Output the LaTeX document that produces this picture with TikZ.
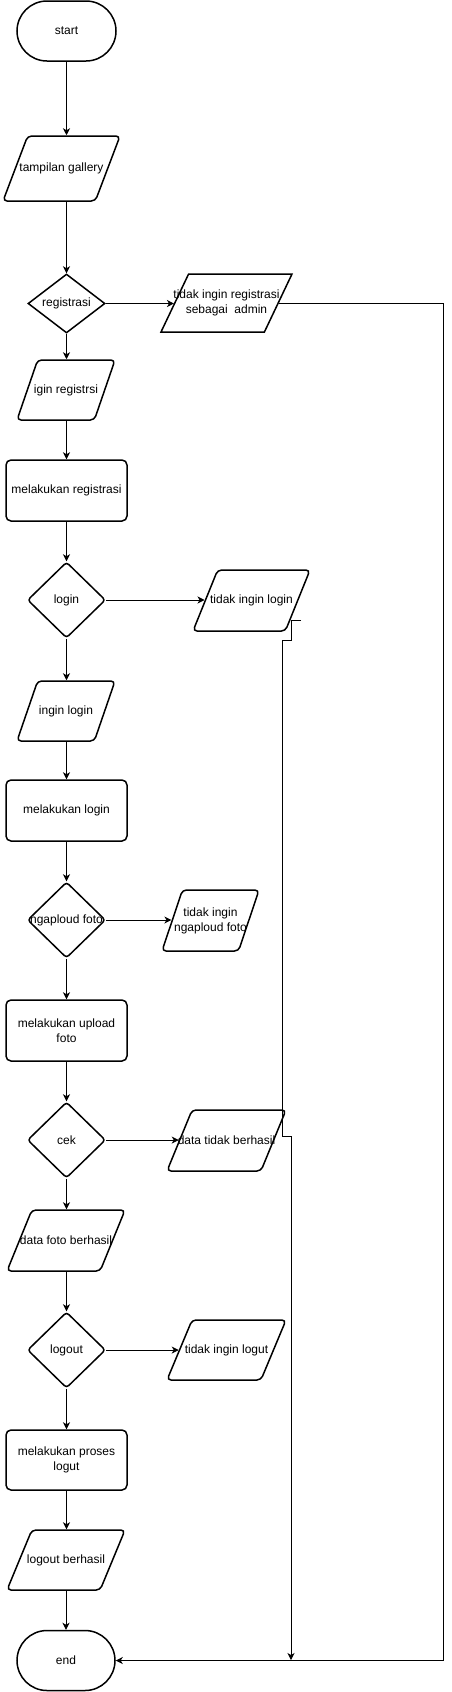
\documentclass[tikz,border=0pt]{standalone}
\usepackage{fontspec}
\setmainfont{Liberation Sans}
\usetikzlibrary{shapes.geometric,shapes.misc,arrows.meta}
\begin{document}
\begin{tikzpicture}[x=1pt,y=-1pt,
  base/.style={draw, line width=1.5pt, inner sep=1pt},
  term/.style={base, rounded rectangle},
  proc/.style={base, rectangle, rounded corners=5pt},
  io/.style={base, trapezium, trapezium left angle=70, trapezium right angle=110, trapezium stretches=true, rounded corners=4pt},
  iosharp/.style={io, sharp corners},
  dec/.style={base, diamond, rounded corners=3pt},
  decsharp/.style={dec, sharp corners},
  conn/.style={line width=0.9pt, -{Stealth[length=7pt,width=7pt,inset=2pt]}},
  lbl/.style={font=\fontsize{12}{15}\selectfont, align=center, inner sep=0pt}
]
\useasboundingbox (0,0) rectangle (451,1692);
% shapes
\node[term, minimum width=101, minimum height=60] (start) at (66.5,31) {};
\node[io, minimum width=117, minimum height=65] (gallery) at (61.5,168.5) {};
\node[decsharp, minimum width=77, minimum height=59] (reg) at (66.5,303.5) {};
\node[iosharp, minimum width=131, minimum height=58] (noreg) at (226.5,303) {};
\node[io, minimum width=98, minimum height=60] (igreg) at (66,390) {};
\node[proc, minimum width=121, minimum height=61] (mreg) at (66.5,490.5) {};
\node[dec, minimum width=78, minimum height=76] (login) at (66.5,600) {};
\node[io, minimum width=117, minimum height=61] (nologin) at (251.5,600.5) {};
\node[io, minimum width=98, minimum height=60] (inlogin) at (66,711) {};
\node[proc, minimum width=121, minimum height=61] (mlogin) at (66.5,810.5) {};
\node[dec, minimum width=78, minimum height=76] (upl) at (66.5,920) {};
\node[io, minimum width=97, minimum height=61] (noupl) at (210.5,920.5) {};
\node[proc, minimum width=121, minimum height=61] (mupl) at (66.5,1030.5) {};
\node[dec, minimum width=78, minimum height=76] (cek) at (66.5,1140) {};
\node[io, minimum width=119, minimum height=61] (dtb) at (226.5,1140.5) {};
\node[io, minimum width=118, minimum height=61] (dfb) at (66,1240.5) {};
\node[dec, minimum width=78, minimum height=76] (logout) at (66.5,1350) {};
\node[io, minimum width=119, minimum height=60] (nologout) at (226.5,1350) {};
\node[proc, minimum width=121, minimum height=60] (mlogout) at (66.5,1460) {};
\node[io, minimum width=118, minimum height=60] (lb) at (66,1560) {};
\node[term, minimum width=100, minimum height=60] (end) at (66,1660.5) {};
% texts
\node[lbl] at (start) {start};
\node[lbl] at (gallery) {tampilan gallery};
\node[lbl] at (reg) {registrasi};
\node[lbl] at (noreg) {tidak ingin registrasi\\sebagai\ \ admin};
\node[lbl] at (igreg) {igin registrsi};
\node[lbl] at (mreg) {melakukan registrasi};
\node[lbl] at (login) {login};
\node[lbl] at (nologin) {tidak ingin login};
\node[lbl] at (inlogin) {ingin login};
\node[lbl] at (mlogin) {melakukan login};
\node[lbl] at (upl) {ngaploud foto};
\node[lbl] at (noupl) {tidak ingin\\ngaploud foto};
\node[lbl] at (mupl) {melakukan upload\\foto};
\node[lbl] at (cek) {cek};
\node[lbl] at (dtb) {data tidak berhasil};
\node[lbl] at (dfb) {data foto berhasil};
\node[lbl] at (logout) {logout};
\node[lbl] at (nologout) {tidak ingin logut};
\node[lbl] at (mlogout) {melakukan proses\\logut};
\node[lbl] at (lb) {logout berhasil};
\node[lbl] at (end) {end};
% main column connectors
\draw[conn] (start.south) -- (start.south |- gallery.north);
\draw[conn] (reg.north |- gallery.south) -- (reg.north);
\draw[conn] (reg.south) -- (reg.south |- igreg.north);
\draw[conn] (mreg.north |- igreg.south) -- (mreg.north);
\draw[conn] (mreg.south) -- (login.north);
\draw[conn] (login.south) -- (login.south |- inlogin.north);
\draw[conn] (mlogin.north |- inlogin.south) -- (mlogin.north);
\draw[conn] (mlogin.south) -- (upl.north);
\draw[conn] (upl.south) -- (mupl.north);
\draw[conn] (mupl.south) -- (cek.north);
\draw[conn] (cek.south) -- (cek.south |- dfb.north);
\draw[conn] (logout.north |- dfb.south) -- (logout.north);
\draw[conn] (logout.south) -- (mlogout.north);
\draw[conn] (mlogout.south) -- (mlogout.south |- lb.north);
\draw[conn] (end.north |- lb.south) -- (end.north);
% side connectors
\draw[conn] (reg.east) -- (reg.east -| noreg.left side);
\draw[conn] (login.east) -- (login.east -| nologin.left side);
\draw[conn] (upl.east) -- (upl.east -| noupl.left side);
\draw[conn] (cek.east) -- (cek.east -| dtb.left side);
\draw[conn] (logout.east) -- (logout.east -| nologout.left side);
% long returns
\coordinate (rail) at (443,0);
\draw[conn] (noreg.right side) -- (noreg.right side -| rail) |- (end.east);
\coordinate (bstart) at (301,620);
\coordinate (bend) at (291,1660);
\draw[conn] (bstart) -- (291,620) -- (291,640) -- (282,640) -- (282,1136) -- (291,1136) -- (bend);
\end{tikzpicture}
\end{document}
